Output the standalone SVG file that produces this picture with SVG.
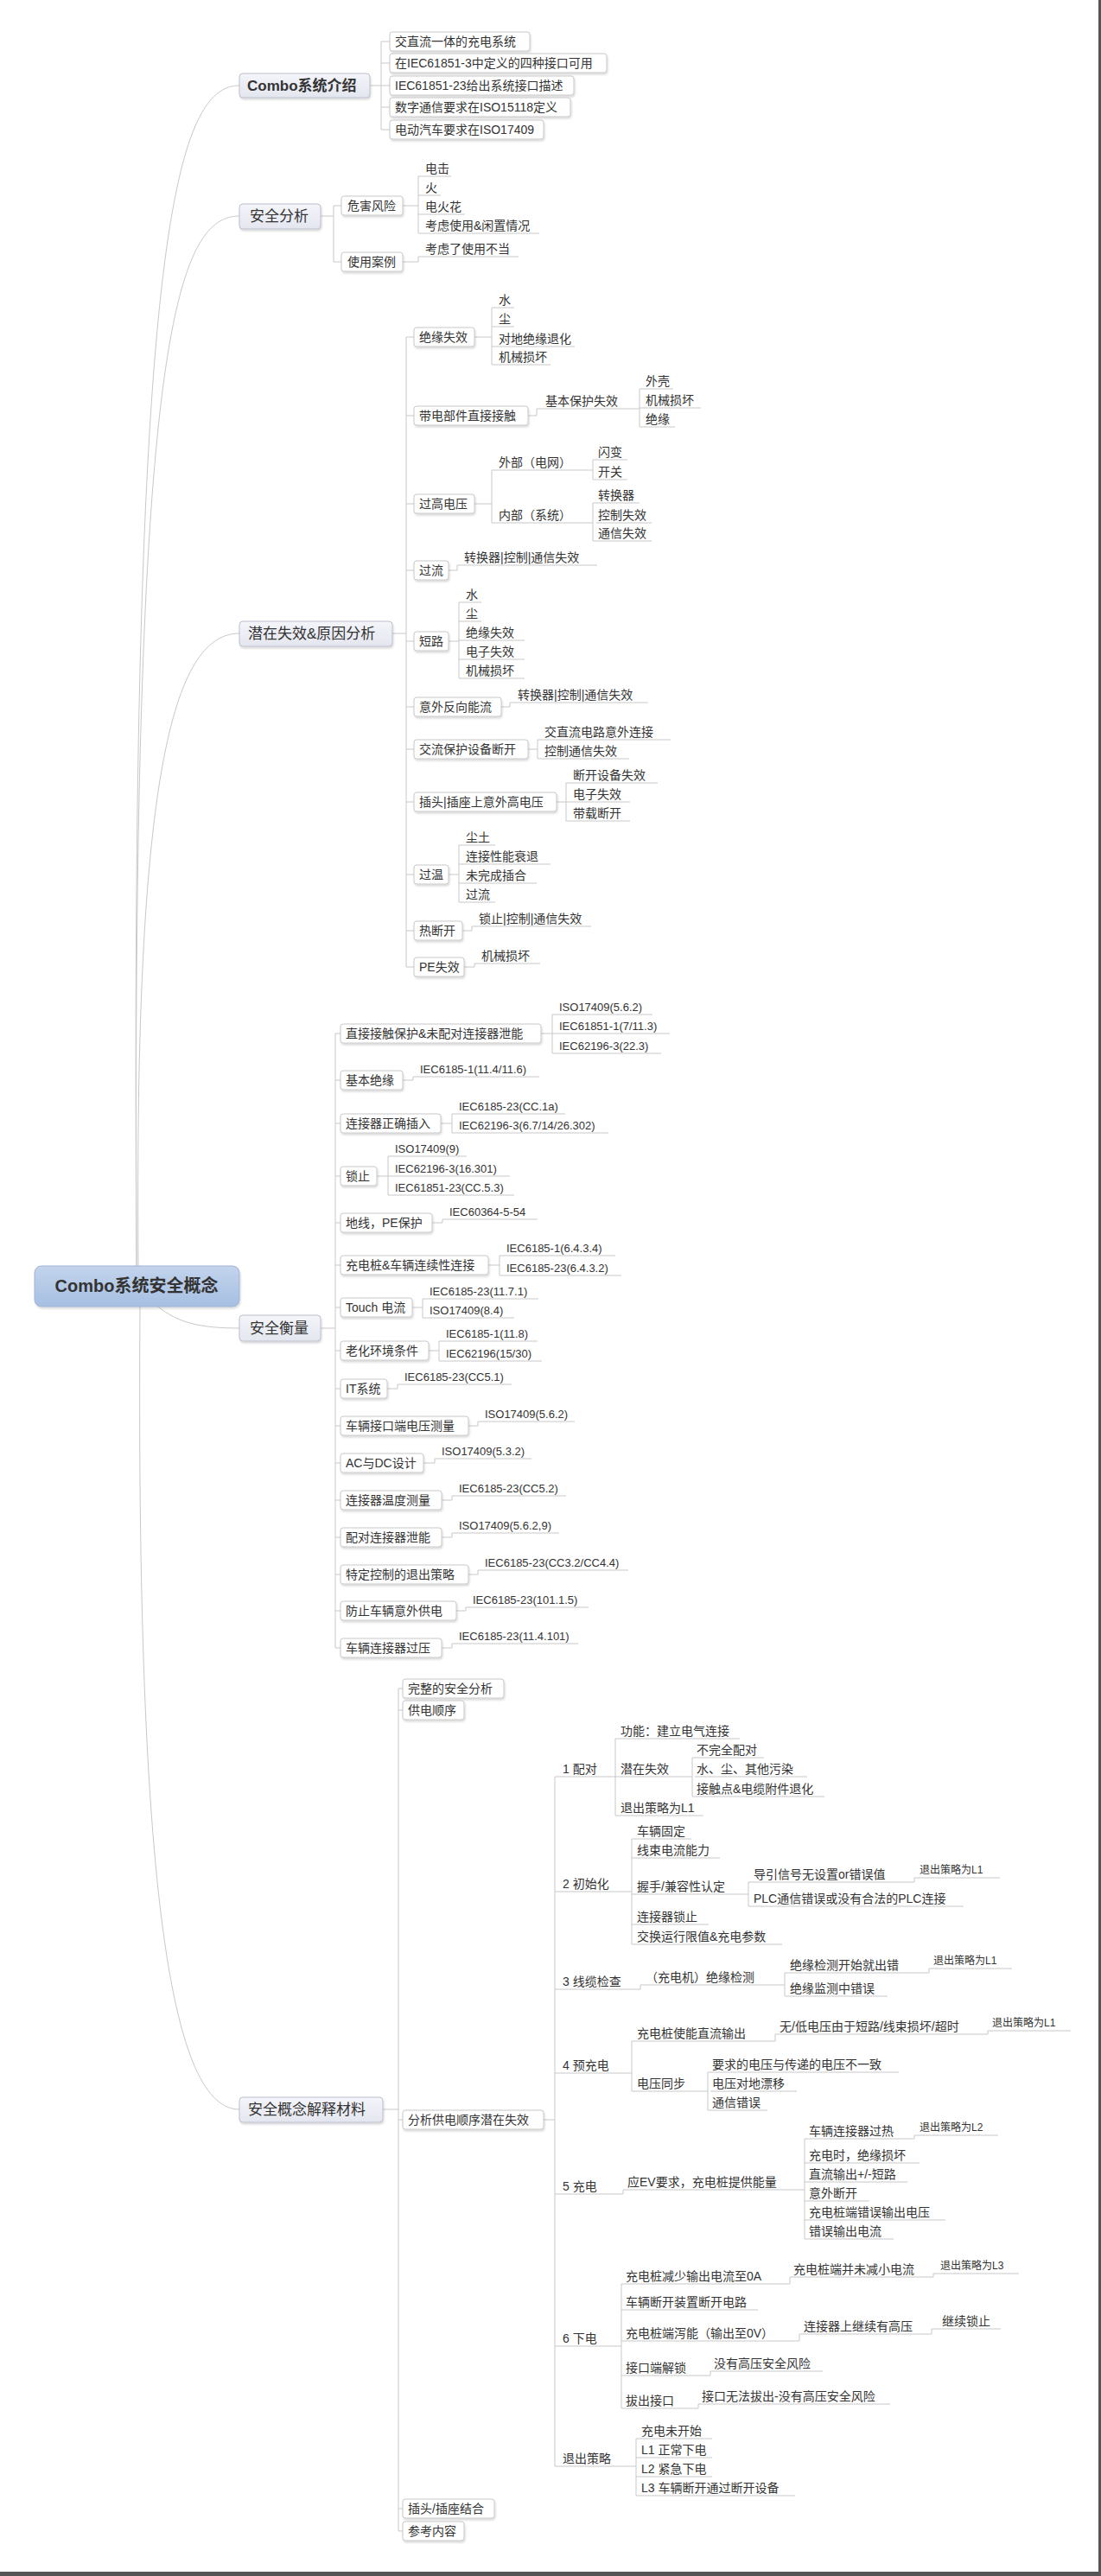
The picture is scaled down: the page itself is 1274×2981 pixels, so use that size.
<svg xmlns="http://www.w3.org/2000/svg" width="1274" height="2981" viewBox="0 0 1274 2981">
<style>
text{font-family:"Liberation Sans","Noto Sans CJK SC",sans-serif;fill:#333;font-size:14px}
.s{font-size:13px}
.x{font-size:12px}
.b{fill:#fff;stroke:#c8c8c8;stroke-width:1}
.l1{fill:url(#g1);stroke:#bcbfcc;stroke-width:1}
.l1t{font-size:17px}
.u{stroke:#c8c8c8;stroke-width:1;fill:none}
.c path{fill:none;stroke:#c8c8c8;stroke-width:1}
</style>
<defs>
<linearGradient id="g1" x1="0" y1="0" x2="0" y2="1"><stop offset="0" stop-color="#f4f5fa"/><stop offset="1" stop-color="#e4e6ef"/></linearGradient>
<linearGradient id="g0" x1="0" y1="0" x2="0" y2="1"><stop offset="0" stop-color="#c3d4ec"/><stop offset="1" stop-color="#a6bfe2"/></linearGradient>
<filter id="sh" x="-10%" y="-20%" width="120%" height="160%"><feDropShadow dx="1" dy="2" stdDeviation="1" flood-color="#000" flood-opacity="0.15"/></filter>
</defs>
<rect width="1274" height="2981" fill="#fff"/>
<rect x="1271" y="0" width="3" height="2981" fill="#555"/>
<rect x="0" y="2976" width="1274" height="5" fill="#555"/>
<g class="c" id="connectors">
<path d="M158,1465 C150,300 200,99 277,99"/>
<path d="M158,1465 C152,420 200,250 277,250"/>
<path d="M160,1465 C155,900 200,733 277,733"/>
<path d="M183,1512 C205,1530 230,1537 277,1537"/>
<path d="M162,1512 C157,2200 200,2441 277,2441"/>
<path d="M428,99 H441 M441,48 V150 M441,48 H451 M441,73 H451 M441,99 H451 M441,124 H451 M441,150 H451"/>
<path d="M371,250 H386 M386,238 V303 M386,238 H395 M386,303 H395"/>
<path d="M466,238 H484 M484,204 V270 M484,204 H490 M484,226 H490 M484,248 H490 M484,270 H490"/>
<path d="M466,303 H484 V297 H490"/>
<path d="M454,733 H470 M470,390 V1119 M470,390 H479 M470,481 H479 M470,583 H479 M470,660 H479 M470,742 H479 M470,818 H479 M470,867 H479 M470,928 H479 M470,1012 H479 M470,1077 H479 M470,1119 H479"/>
<path d="M549,390 H569 M569,356 V422 M569,356 H575 M569,378 H575 M569,401 H575 M569,422 H575"/>
<path d="M611,481 H621 V473 H627 M727,473 H740 M740,450 V494 M740,450 H745 M740,472 H745 M740,494 H745"/>
<path d="M549,583 H569 M569,544 V605 M569,544 H575 M569,605 H575 M681,544 H686 M686,532 V555 M686,532 H690 M686,555 H690 M681,605 H686 M686,582 V626 M686,582 H690 M686,626 H690"/>
<path d="M519,660 H529 V654 H535"/>
<path d="M519,742 H531 M531,697 V785 M531,697 H537 M531,719 H537 M531,741 H537 M531,763 H537 M531,785 H537"/>
<path d="M580,818 H590 V813 H597"/>
<path d="M611,867 H622 M622,856 V878 M622,856 H628 M622,878 H628"/>
<path d="M644,928 H655 M655,906 V950 M655,906 H661 M655,928 H661 M655,950 H661"/>
<path d="M519,1012 H531 M531,978 V1044 M531,978 H537 M531,1000 H537 M531,1022 H537 M531,1044 H537"/>
<path d="M535,1077 H546 V1072 H552"/>
<path d="M537,1119 H549 V1115 H555"/>
<path d="M371,1537 H388 M388,1196 V1907 M388,1196 H394 M388,1250 H394 M388,1300 H394 M388,1361 H394 M388,1415 H394 M388,1464 H394 M388,1513 H394 M388,1563 H394 M388,1607 H394 M388,1650 H394 M388,1693 H394 M388,1736 H394 M388,1779 H394 M388,1822 H394 M388,1864 H394 M388,1907 H394"/>
<path d="M626,1196 H639 M639,1174 V1219 M639,1174 H645 M639,1196 H645 M639,1219 H645"/>
<path d="M466,1250 H478 V1246 H484"/>
<path d="M510,1300 H523 M523,1289 V1311 M523,1289 H529 M523,1311 H529"/>
<path d="M436,1361 H449 M449,1338 V1383 M449,1338 H455 M449,1361 H455 M449,1383 H455"/>
<path d="M500,1415 H512 V1411 H518"/>
<path d="M565,1464 H578 M578,1453 V1476 M578,1453 H584 M578,1476 H584"/>
<path d="M477,1513 H489 M489,1503 V1525 M489,1503 H495 M489,1525 H495"/>
<path d="M496,1563 H508 M508,1552 V1575 M508,1552 H514 M508,1575 H514"/>
<path d="M448,1607 H460 V1602 H466"/>
<path d="M542,1650 H553 V1645 H559"/>
<path d="M490,1693 H503 V1688 H509"/>
<path d="M511,1736 H523 V1731 H529"/>
<path d="M511,1779 H523 V1774 H529"/>
<path d="M542,1822 H553 V1817 H559"/>
<path d="M528,1864 H539 V1860 H545"/>
<path d="M511,1907 H523 V1902 H529"/>
<path d="M443,2441 H461 M461,1954 V2929 M461,1954 H466 M461,1979 H466 M461,2453 H466 M461,2903 H466 M461,2929 H466"/>
<path d="M629,2453 H642 M642,2056 V2854 M642,2056 H648 M642,2189 H648 M642,2302 H648 M642,2399 H648 M642,2539 H648 M642,2715 H648 M642,2854 H648"/>
<path d="M708,2056 H712 M712,2012 V2101 M712,2012 H716 M712,2056 H716 M712,2101 H716"/>
<path d="M798,2056 H801 M801,2034 V2079 M801,2034 H804 M801,2079 H804"/>
<path d="M728,2189 H731 M731,2128 V2250 M731,2128 H735 M731,2150 H735 M731,2192 H735 M731,2227 H735 M731,2250 H735"/>
<path d="M863,2192 H866 M866,2178 V2206 M866,2178 H870 M866,2206 H870"/>
<path d="M1055,2178 H1058 V2173 H1062"/>
<path d="M738,2302 H741 V2297 H745 M905,2297 H908 M908,2283 V2310 M908,2283 H912 M908,2310 H912 M1072,2283 H1075 V2278 H1078"/>
<path d="M728,2399 H731 M731,2362 V2420 M731,2362 H735 M731,2420 H735 M895,2362 H897 V2354 H900 M1140,2354 H1143 V2350 H1146 M817,2420 H819 M819,2398 V2442 M819,2398 H822 M819,2442 H822"/>
<path d="M718,2539 H721 V2534 H724 M929,2534 H931 M931,2475 V2591 M931,2475 H934 M931,2503 H934 M931,2525 H934 M931,2547 H934 M931,2569 H934 M931,2591 H934 M1054,2475 H1058 V2471 H1062"/>
<path d="M716,2715 H719 M719,2643 V2787 M719,2643 H722 M719,2673 H722 M719,2709 H722 M719,2749 H722 M719,2787 H722 M912,2643 H914 V2635 H916 M1076,2635 H1080 V2631 H1086 M922,2709 H925 V2701 H928 M1068,2701 H1078 V2695 H1088 M820,2749 H822 V2744 H824 M806,2787 H808 V2782 H810"/>
<path d="M732,2854 H736 M736,2822 V2888 M736,2822 H740 M736,2844 H740 M736,2866 H740 M736,2888 H740"/>
</g>
<g id="root"><rect x="40" y="1465" width="237" height="47" rx="8" fill="url(#g0)" stroke="#9fb3d3" filter="url(#sh)"/><text x="158" y="1495" text-anchor="middle" style="font-size:20px;font-weight:bold" fill="#333">Combo系统安全概念</text></g>
<g id="l1a"><rect class="l1" x="277" y="85" width="151" height="28" rx="4" filter="url(#sh)"/><text class="l1t" x="286" y="105" font-weight="bold">Combo系统介绍</text></g>
<g id="l1b"><rect class="l1" x="277" y="236" width="94" height="29" rx="4" filter="url(#sh)"/><text class="l1t" x="289" y="256">安全分析</text></g>
<g id="l1c"><rect class="l1" x="277" y="719" width="177" height="29" rx="4" filter="url(#sh)"/><text class="l1t" x="287" y="739">潜在失效&amp;原因分析</text></g>
<g id="l1d"><rect class="l1" x="277" y="1522" width="94" height="30" rx="4" filter="url(#sh)"/><text class="l1t" x="289" y="1543">安全衡量</text></g>
<g id="l1e"><rect class="l1" x="277" y="2427" width="166" height="29" rx="4" filter="url(#sh)"/><text class="l1t" x="287" y="2447">安全概念解释材料</text></g>
<g id="a1"><rect class="b" x="451" y="37" width="162" height="22" rx="3" filter="url(#sh)"/><text x="457" y="53">交直流一体的充电系统</text></g>
<g id="a2"><rect class="b" x="451" y="62" width="251" height="22" rx="3" filter="url(#sh)"/><text x="457" y="78">在IEC61851-3中定义的四种接口可用</text></g>
<g id="a3"><rect class="b" x="451" y="88" width="213" height="22" rx="3" filter="url(#sh)"/><text x="457" y="104">IEC61851-23给出系统接口描述</text></g>
<g id="a4"><rect class="b" x="451" y="113" width="209" height="22" rx="3" filter="url(#sh)"/><text x="457" y="129">数字通信要求在ISO15118定义</text></g>
<g id="a5"><rect class="b" x="451" y="139" width="178" height="22" rx="3" filter="url(#sh)"/><text x="457" y="155">电动汽车要求在ISO17409</text></g>
<g id="b1"><rect class="b" x="395" y="227" width="71" height="22" rx="3" filter="url(#sh)"/><text x="402" y="243">危害风险</text></g>
<g id="b2"><rect class="b" x="395" y="292" width="71" height="22" rx="3" filter="url(#sh)"/><text x="402" y="308">使用案例</text></g>
<g id="b11"><text x="492" y="200">电击</text><path class="u" d="M490,204 h32"/></g>
<g id="b12"><text x="492" y="222">火</text><path class="u" d="M490,226 h20"/></g>
<g id="b13"><text x="492" y="244">电火花</text><path class="u" d="M490,248 h48"/></g>
<g id="b14"><text x="492" y="266">考虑使用&amp;闲置情况</text><path class="u" d="M490,270 h134"/></g>
<g id="b21"><text x="492" y="293">考虑了使用不当</text><path class="u" d="M490,297 h110"/></g>
<g id="c1"><rect class="b" x="479" y="379" width="70" height="22" rx="3" filter="url(#sh)"/><text x="485" y="395">绝缘失效</text></g>
<g id="c2"><rect class="b" x="479" y="470" width="132" height="22" rx="3" filter="url(#sh)"/><text x="485" y="486">带电部件直接接触</text></g>
<g id="c3"><rect class="b" x="479" y="572" width="70" height="22" rx="3" filter="url(#sh)"/><text x="485" y="588">过高电压</text></g>
<g id="c4"><rect class="b" x="479" y="649" width="40" height="22" rx="3" filter="url(#sh)"/><text x="485" y="665">过流</text></g>
<g id="c5"><rect class="b" x="479" y="731" width="40" height="22" rx="3" filter="url(#sh)"/><text x="485" y="747">短路</text></g>
<g id="c6"><rect class="b" x="479" y="807" width="101" height="22" rx="3" filter="url(#sh)"/><text x="485" y="823">意外反向能流</text></g>
<g id="c7"><rect class="b" x="479" y="856" width="132" height="22" rx="3" filter="url(#sh)"/><text x="485" y="872">交流保护设备断开</text></g>
<g id="c8"><rect class="b" x="479" y="917" width="165" height="22" rx="3" filter="url(#sh)"/><text x="485" y="933">插头|插座上意外高电压</text></g>
<g id="c9"><rect class="b" x="479" y="1001" width="40" height="22" rx="3" filter="url(#sh)"/><text x="485" y="1017">过温</text></g>
<g id="c10"><rect class="b" x="479" y="1066" width="56" height="22" rx="3" filter="url(#sh)"/><text x="485" y="1082">热断开</text></g>
<g id="c11"><rect class="b" x="479" y="1108" width="58" height="22" rx="3" filter="url(#sh)"/><text x="485" y="1124">PE失效</text></g>
<g id="c1a"><text x="577" y="352">水</text><path class="u" d="M575,356 h20"/></g>
<g id="c1b"><text x="577" y="374">尘</text><path class="u" d="M575,378 h20"/></g>
<g id="c1c"><text x="577" y="397">对地绝缘退化</text><path class="u" d="M575,401 h90"/></g>
<g id="c1d"><text x="577" y="418">机械损坏</text><path class="u" d="M575,422 h62"/></g>
<g id="c2a"><text x="631" y="469">基本保护失效</text><path class="u" d="M627,473 h100"/></g>
<g id="c2b"><text x="747" y="446">外壳</text><path class="u" d="M745,450 h34"/></g>
<g id="c2c"><text x="747" y="468">机械损坏</text><path class="u" d="M745,472 h66"/></g>
<g id="c2d"><text x="747" y="490">绝缘</text><path class="u" d="M745,494 h36"/></g>
<g id="c3a"><text x="577" y="540">外部（电网）</text><path class="u" d="M575,544 h106"/></g>
<g id="c3b"><text x="577" y="601">内部（系统）</text><path class="u" d="M575,605 h106"/></g>
<g id="c3c"><text x="692" y="528">闪变</text><path class="u" d="M690,532 h36"/></g>
<g id="c3d"><text x="692" y="551">开关</text><path class="u" d="M690,555 h36"/></g>
<g id="c3e"><text x="692" y="578">转换器</text><path class="u" d="M690,582 h50"/></g>
<g id="c3f"><text x="692" y="601">控制失效</text><path class="u" d="M690,605 h64"/></g>
<g id="c3g"><text x="692" y="622">通信失效</text><path class="u" d="M690,626 h64"/></g>
<g id="c4a"><text x="537" y="650">转换器|控制|通信失效</text><path class="u" d="M535,654 h156"/></g>
<g id="c5a"><text x="539" y="693">水</text><path class="u" d="M537,697 h20"/></g>
<g id="c5b"><text x="539" y="715">尘</text><path class="u" d="M537,719 h20"/></g>
<g id="c5c"><text x="539" y="737">绝缘失效</text><path class="u" d="M537,741 h70"/></g>
<g id="c5d"><text x="539" y="759">电子失效</text><path class="u" d="M537,763 h70"/></g>
<g id="c5e"><text x="539" y="781">机械损坏</text><path class="u" d="M537,785 h70"/></g>
<g id="c6a"><text x="599" y="809">转换器|控制|通信失效</text><path class="u" d="M597,813 h153"/></g>
<g id="c7a"><text x="630" y="852">交直流电路意外连接</text><path class="u" d="M628,856 h148"/></g>
<g id="c7b"><text x="630" y="874">控制通信失效</text><path class="u" d="M628,878 h100"/></g>
<g id="c8a"><text x="663" y="902">断开设备失效</text><path class="u" d="M661,906 h100"/></g>
<g id="c8b"><text x="663" y="924">电子失效</text><path class="u" d="M661,928 h68"/></g>
<g id="c8c"><text x="663" y="946">带载断开</text><path class="u" d="M661,950 h68"/></g>
<g id="c9a"><text x="539" y="974">尘土</text><path class="u" d="M537,978 h36"/></g>
<g id="c9b"><text x="539" y="996">连接性能衰退</text><path class="u" d="M537,1000 h100"/></g>
<g id="c9c"><text x="539" y="1018">未完成插合</text><path class="u" d="M537,1022 h84"/></g>
<g id="c9d"><text x="539" y="1040">过流</text><path class="u" d="M537,1044 h36"/></g>
<g id="c10a"><text x="554" y="1068">锁止|控制|通信失效</text><path class="u" d="M552,1072 h132"/></g>
<g id="c11a"><text x="557" y="1111">机械损坏</text><path class="u" d="M555,1115 h70"/></g>
<g id="d1"><rect class="b" x="394" y="1185" width="232" height="22" rx="3" filter="url(#sh)"/><text x="400" y="1201">直接接触保护&amp;未配对连接器泄能</text></g>
<g id="d2"><rect class="b" x="394" y="1239" width="72" height="22" rx="3" filter="url(#sh)"/><text x="400" y="1255">基本绝缘</text></g>
<g id="d3"><rect class="b" x="394" y="1289" width="116" height="22" rx="3" filter="url(#sh)"/><text x="400" y="1305">连接器正确插入</text></g>
<g id="d4"><rect class="b" x="394" y="1350" width="42" height="22" rx="3" filter="url(#sh)"/><text x="400" y="1366">锁止</text></g>
<g id="d5"><rect class="b" x="394" y="1404" width="106" height="22" rx="3" filter="url(#sh)"/><text x="400" y="1420">地线，PE保护</text></g>
<g id="d6"><rect class="b" x="394" y="1453" width="171" height="22" rx="3" filter="url(#sh)"/><text x="400" y="1469">充电桩&amp;车辆连续性连接</text></g>
<g id="d7"><rect class="b" x="394" y="1502" width="83" height="22" rx="3" filter="url(#sh)"/><text x="400" y="1518">Touch 电流</text></g>
<g id="d8"><rect class="b" x="394" y="1552" width="102" height="22" rx="3" filter="url(#sh)"/><text x="400" y="1568">老化环境条件</text></g>
<g id="d9"><rect class="b" x="394" y="1596" width="54" height="22" rx="3" filter="url(#sh)"/><text x="400" y="1612">IT系统</text></g>
<g id="d10"><rect class="b" x="394" y="1639" width="148" height="22" rx="3" filter="url(#sh)"/><text x="400" y="1655">车辆接口端电压测量</text></g>
<g id="d11"><rect class="b" x="394" y="1682" width="96" height="22" rx="3" filter="url(#sh)"/><text x="400" y="1698">AC与DC设计</text></g>
<g id="d12"><rect class="b" x="394" y="1725" width="117" height="22" rx="3" filter="url(#sh)"/><text x="400" y="1741">连接器温度测量</text></g>
<g id="d13"><rect class="b" x="394" y="1768" width="117" height="22" rx="3" filter="url(#sh)"/><text x="400" y="1784">配对连接器泄能</text></g>
<g id="d14"><rect class="b" x="394" y="1811" width="148" height="22" rx="3" filter="url(#sh)"/><text x="400" y="1827">特定控制的退出策略</text></g>
<g id="d15"><rect class="b" x="394" y="1853" width="134" height="22" rx="3" filter="url(#sh)"/><text x="400" y="1869">防止车辆意外供电</text></g>
<g id="d16"><rect class="b" x="394" y="1896" width="117" height="22" rx="3" filter="url(#sh)"/><text x="400" y="1912">车辆连接器过压</text></g>
<g id="d1a"><text class="s" x="647" y="1170">ISO17409(5.6.2)</text><path class="u" d="M645,1174 h110"/></g>
<g id="d1b"><text class="s" x="647" y="1192">IEC61851-1(7/11.3)</text><path class="u" d="M645,1196 h130"/></g>
<g id="d1c"><text class="s" x="647" y="1215">IEC62196-3(22.3)</text><path class="u" d="M645,1219 h120"/></g>
<g id="d2a"><text class="s" x="486" y="1242">IEC6185-1(11.4/11.6)</text><path class="u" d="M484,1246 h140"/></g>
<g id="d3a"><text class="s" x="531" y="1285">IEC6185-23(CC.1a)</text><path class="u" d="M529,1289 h125"/></g>
<g id="d3b"><text class="s" x="531" y="1307">IEC62196-3(6.7/14/26.302)</text><path class="u" d="M529,1311 h175"/></g>
<g id="d4a"><text class="s" x="457" y="1334">ISO17409(9)</text><path class="u" d="M455,1338 h85"/></g>
<g id="d4b"><text class="s" x="457" y="1357">IEC62196-3(16.301)</text><path class="u" d="M455,1361 h135"/></g>
<g id="d4c"><text class="s" x="457" y="1379">IEC61851-23(CC.5.3)</text><path class="u" d="M455,1383 h140"/></g>
<g id="d5a"><text class="s" x="520" y="1407">IEC60364-5-54</text><path class="u" d="M518,1411 h104"/></g>
<g id="d6a"><text class="s" x="586" y="1449">IEC6185-1(6.4.3.4)</text><path class="u" d="M584,1453 h128"/></g>
<g id="d6b"><text class="s" x="586" y="1472">IEC6185-23(6.4.3.2)</text><path class="u" d="M584,1476 h135"/></g>
<g id="d7a"><text class="s" x="497" y="1499">IEC6185-23(11.7.1)</text><path class="u" d="M495,1503 h128"/></g>
<g id="d7b"><text class="s" x="497" y="1521">ISO17409(8.4)</text><path class="u" d="M495,1525 h100"/></g>
<g id="d8a"><text class="s" x="516" y="1548">IEC6185-1(11.8)</text><path class="u" d="M514,1552 h108"/></g>
<g id="d8b"><text class="s" x="516" y="1571">IEC62196(15/30)</text><path class="u" d="M514,1575 h113"/></g>
<g id="d9a"><text class="s" x="468" y="1598">IEC6185-23(CC5.1)</text><path class="u" d="M466,1602 h126"/></g>
<g id="d10a"><text class="s" x="561" y="1641">ISO17409(5.6.2)</text><path class="u" d="M559,1645 h106"/></g>
<g id="d11a"><text class="s" x="511" y="1684">ISO17409(5.3.2)</text><path class="u" d="M509,1688 h106"/></g>
<g id="d12a"><text class="s" x="531" y="1727">IEC6185-23(CC5.2)</text><path class="u" d="M529,1731 h126"/></g>
<g id="d13a"><text class="s" x="531" y="1770">ISO17409(5.6.2,9)</text><path class="u" d="M529,1774 h118"/></g>
<g id="d14a"><text class="s" x="561" y="1813">IEC6185-23(CC3.2/CC4.4)</text><path class="u" d="M559,1817 h168"/></g>
<g id="d15a"><text class="s" x="547" y="1856">IEC6185-23(101.1.5)</text><path class="u" d="M545,1860 h136"/></g>
<g id="d16a"><text class="s" x="531" y="1898">IEC6185-23(11.4.101)</text><path class="u" d="M529,1902 h140"/></g>
<g id="e1"><rect class="b" x="466" y="1943" width="117" height="22" rx="3" filter="url(#sh)"/><text x="472" y="1959">完整的安全分析</text></g>
<g id="e2"><rect class="b" x="466" y="1968" width="71" height="22" rx="3" filter="url(#sh)"/><text x="472" y="1984">供电顺序</text></g>
<g id="e3"><rect class="b" x="466" y="2442" width="163" height="22" rx="3" filter="url(#sh)"/><text x="472" y="2458">分析供电顺序潜在失效</text></g>
<g id="e4"><rect class="b" x="466" y="2892" width="106" height="22" rx="3" filter="url(#sh)"/><text x="472" y="2908">插头/插座结合</text></g>
<g id="e5"><rect class="b" x="466" y="2918" width="71" height="22" rx="3" filter="url(#sh)"/><text x="472" y="2934">参考内容</text></g>
<g id="s1"><text x="651" y="2052">1 配对</text><path class="u" d="M648,2056 h60"/></g>
<g id="s1a"><text x="718" y="2008">功能：建立电气连接</text><path class="u" d="M716,2012 h140"/></g>
<g id="s1b"><text x="718" y="2052">潜在失效</text><path class="u" d="M716,2056 h82"/></g>
<g id="s1c"><text x="718" y="2097">退出策略为L1</text><path class="u" d="M716,2101 h98"/></g>
<g id="s1d"><text x="806" y="2030">不完全配对</text><path class="u" d="M804,2034 h80"/></g>
<g id="s1e"><text x="806" y="2052">水、尘、其他污染</text><path class="u" d="M804,2056 h130"/></g>
<g id="s1f"><text x="806" y="2075">接触点&amp;电缆附件退化</text><path class="u" d="M804,2079 h150"/></g>
<g id="s2"><text x="651" y="2185">2 初始化</text><path class="u" d="M648,2189 h80"/></g>
<g id="s2a"><text x="737" y="2124">车辆固定</text><path class="u" d="M735,2128 h65"/></g>
<g id="s2b"><text x="737" y="2146">线束电流能力</text><path class="u" d="M735,2150 h98"/></g>
<g id="s2c"><text x="737" y="2188">握手/兼容性认定</text><path class="u" d="M735,2192 h128"/></g>
<g id="s2d"><text x="737" y="2223">连接器锁止</text><path class="u" d="M735,2227 h85"/></g>
<g id="s2e"><text x="737" y="2246">交换运行限值&amp;充电参数</text><path class="u" d="M735,2250 h170"/></g>
<g id="s2f"><text x="872" y="2174">导引信号无设置or错误值</text><path class="u" d="M870,2178 h185"/></g>
<g id="s2g"><text x="872" y="2202">PLC通信错误或没有合法的PLC连接</text><path class="u" d="M870,2206 h245"/></g>
<g id="s2h"><text class="x" x="1064" y="2168">退出策略为L1</text><path class="u" d="M1062,2173 h95"/></g>
<g id="s3"><text x="651" y="2298">3 线缆检查</text><path class="u" d="M648,2302 h90"/></g>
<g id="s3a"><text x="747" y="2293">（充电机）绝缘检测</text><path class="u" d="M745,2297 h160"/></g>
<g id="s3b"><text x="914" y="2279">绝缘检测开始就出错</text><path class="u" d="M912,2283 h160"/></g>
<g id="s3c"><text x="914" y="2306">绝缘监测中错误</text><path class="u" d="M912,2310 h115"/></g>
<g id="s3d"><text class="x" x="1080" y="2273">退出策略为L1</text><path class="u" d="M1078,2278 h93"/></g>
<g id="s4"><text x="651" y="2395">4 预充电</text><path class="u" d="M648,2399 h80"/></g>
<g id="s4a"><text x="737" y="2358">充电桩使能直流输出</text><path class="u" d="M735,2362 h160"/></g>
<g id="s4b"><text x="737" y="2416">电压同步</text><path class="u" d="M735,2420 h82"/></g>
<g id="s4c"><text x="902" y="2350">无/低电压由于短路/线束损坏/超时</text><path class="u" d="M900,2354 h240"/></g>
<g id="s4d"><text class="x" x="1148" y="2345">退出策略为L1</text><path class="u" d="M1146,2350 h93"/></g>
<g id="s4e"><text x="824" y="2394">要求的电压与传递的电压不一致</text><path class="u" d="M822,2398 h218"/></g>
<g id="s4f"><text x="824" y="2416">电压对地漂移</text><path class="u" d="M822,2420 h100"/></g>
<g id="s4g"><text x="824" y="2438">通信错误</text><path class="u" d="M822,2442 h66"/></g>
<g id="s5"><text x="651" y="2535">5 充电</text><path class="u" d="M648,2539 h70"/></g>
<g id="s5a"><text x="726" y="2530">应EV要求，充电桩提供能量</text><path class="u" d="M724,2534 h205"/></g>
<g id="s5b"><text x="936" y="2471">车辆连接器过热</text><path class="u" d="M934,2475 h120"/></g>
<g id="s5c"><text x="936" y="2499">充电时，绝缘损坏</text><path class="u" d="M934,2503 h130"/></g>
<g id="s5d"><text x="936" y="2521">直流输出+/-短路</text><path class="u" d="M934,2525 h116"/></g>
<g id="s5e"><text x="936" y="2543">意外断开</text><path class="u" d="M934,2547 h72"/></g>
<g id="s5f"><text x="936" y="2565">充电桩端错误输出电压</text><path class="u" d="M934,2569 h160"/></g>
<g id="s5g"><text x="936" y="2587">错误输出电流</text><path class="u" d="M934,2591 h100"/></g>
<g id="s5h"><text class="x" x="1064" y="2466">退出策略为L2</text><path class="u" d="M1062,2471 h93"/></g>
<g id="s6"><text x="651" y="2711">6 下电</text><path class="u" d="M648,2715 h68"/></g>
<g id="s6a"><text x="724" y="2639">充电桩减少输出电流至0A</text><path class="u" d="M722,2643 h190"/></g>
<g id="s6b"><text x="724" y="2669">车辆断开装置断开电路</text><path class="u" d="M722,2673 h155"/></g>
<g id="s6c"><text x="724" y="2705">充电桩端泻能（输出至0V）</text><path class="u" d="M722,2709 h200"/></g>
<g id="s6d"><text x="724" y="2745">接口端解锁</text><path class="u" d="M722,2749 h98"/></g>
<g id="s6e"><text x="724" y="2783">拔出接口</text><path class="u" d="M722,2787 h84"/></g>
<g id="s6f"><text x="918" y="2631">充电桩端并未减小电流</text><path class="u" d="M916,2635 h160"/></g>
<g id="s6g"><text class="x" x="1088" y="2626">退出策略为L3</text><path class="u" d="M1086,2631 h93"/></g>
<g id="s6h"><text x="930" y="2697">连接器上继续有高压</text><path class="u" d="M928,2701 h140"/></g>
<g id="s6i"><text x="1090" y="2691">继续锁止</text><path class="u" d="M1088,2695 h70"/></g>
<g id="s6j"><text x="826" y="2740">没有高压安全风险</text><path class="u" d="M824,2744 h128"/></g>
<g id="s6k"><text x="812" y="2778">接口无法拔出-没有高压安全风险</text><path class="u" d="M810,2782 h220"/></g>
<g id="s7"><text x="651" y="2850">退出策略</text><path class="u" d="M648,2854 h84"/></g>
<g id="s7a"><text x="742" y="2818">充电未开始</text><path class="u" d="M740,2822 h84"/></g>
<g id="s7b"><text x="742" y="2840">L1 正常下电</text><path class="u" d="M740,2844 h84"/></g>
<g id="s7c"><text x="742" y="2862">L2 紧急下电</text><path class="u" d="M740,2866 h84"/></g>
<g id="s7d"><text x="742" y="2884">L3 车辆断开通过断开设备</text><path class="u" d="M740,2888 h180"/></g>
</svg>
